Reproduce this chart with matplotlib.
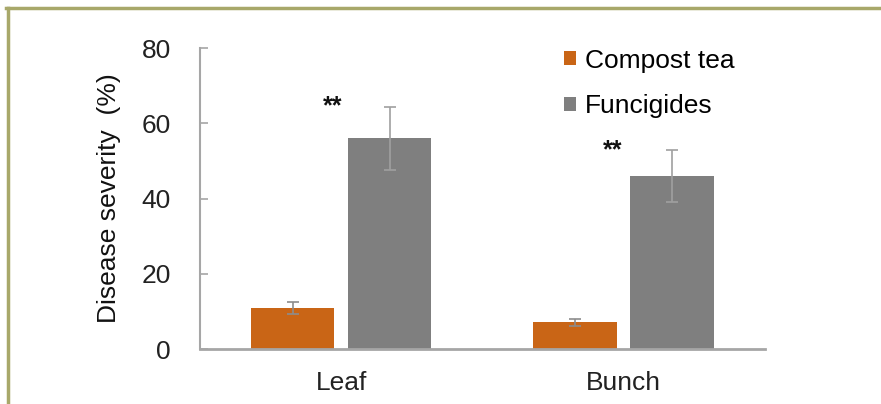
import numpy as np
import matplotlib
matplotlib.use('Agg')
from matplotlib import pyplot as plt
from matplotlib.lines import Line2D

plt.rcParams['font.family'] = ['Liberation Sans', 'DejaVu Sans']

# datos
categorias = ['Leaf', 'Bunch']
compost = [11.0, 7.1]
compost_err = [1.6, 1.0]
fungicidas = [56.0, 46.0]
fungicidas_err = [8.4, 6.8]
series = ['Compost tea', 'Funcigides']
estrellas = ['**', '**']
estrellas_y = [64.5, 52.8]

naranja = '#C96516'
gris = '#7F7F7F'
gris_eje = '#A6A6A6'

fig = plt.figure(figsize=(8.81, 4.04), dpi=100)
ax = fig.add_axes([0.227, 0.136, 0.641, 0.745])

x = np.arange(len(categorias))
ancho = 0.295
desp = 0.172

ax.bar(x - desp, compost, ancho, color=naranja, label=series[0],
       yerr=compost_err, capsize=4,
       error_kw=dict(ecolor='#8C8C8C', elinewidth=1.2, capthick=1.2))
ax.bar(x + desp, fungicidas, ancho, color=gris, label=series[1],
       yerr=fungicidas_err, capsize=4,
       error_kw=dict(ecolor='#A0A0A0', elinewidth=1.2, capthick=1.2))

# asteriscos de significancia
for i, s in enumerate(estrellas):
    ax.text(x[i] - 0.03 - 0.01 * i, estrellas_y[i], s, ha='center', va='center',
            fontsize=18, fontweight='bold', color='#111111')

ax.set_xlim(-0.5, 1.5)
ax.set_ylim(0, 80)
ax.set_yticks([0, 20, 40, 60, 80])
ax.set_xticks(x)
ax.set_xticklabels(categorias)
ax.set_ylabel('Disease severity  (%)', fontsize=19, color='#111111', labelpad=15)

for lado in ['top', 'right']:
    ax.spines[lado].set_visible(False)
ax.spines['left'].set_color(gris_eje)
ax.spines['bottom'].set_color(gris_eje)
ax.spines['left'].set_linewidth(1.5)
ax.spines['bottom'].set_linewidth(2)

ax.tick_params(axis='y', direction='in', length=6, width=1.2, color=gris_eje,
               labelsize=19, pad=21, labelcolor='#222222')
ax.tick_params(axis='x', length=0, labelsize=19, pad=16, labelcolor='#222222')

leg = ax.legend(loc='upper left', bbox_to_anchor=(0.603, 1.077), frameon=False,
                fontsize=19, handlelength=0.45, handleheight=0.45,
                handletextpad=0.35, labelspacing=0.82)

# marco verde olivo
marco = '#A8A86A'
fig.add_artist(Line2D([0.009, 0.009], [0, 0.979], color=marco, lw=2.5,
                      transform=fig.transFigure))
fig.add_artist(Line2D([0.007, 1], [0.979, 0.979], color=marco, lw=2.5,
                      transform=fig.transFigure))

plt.savefig('out.png', dpi=100)
